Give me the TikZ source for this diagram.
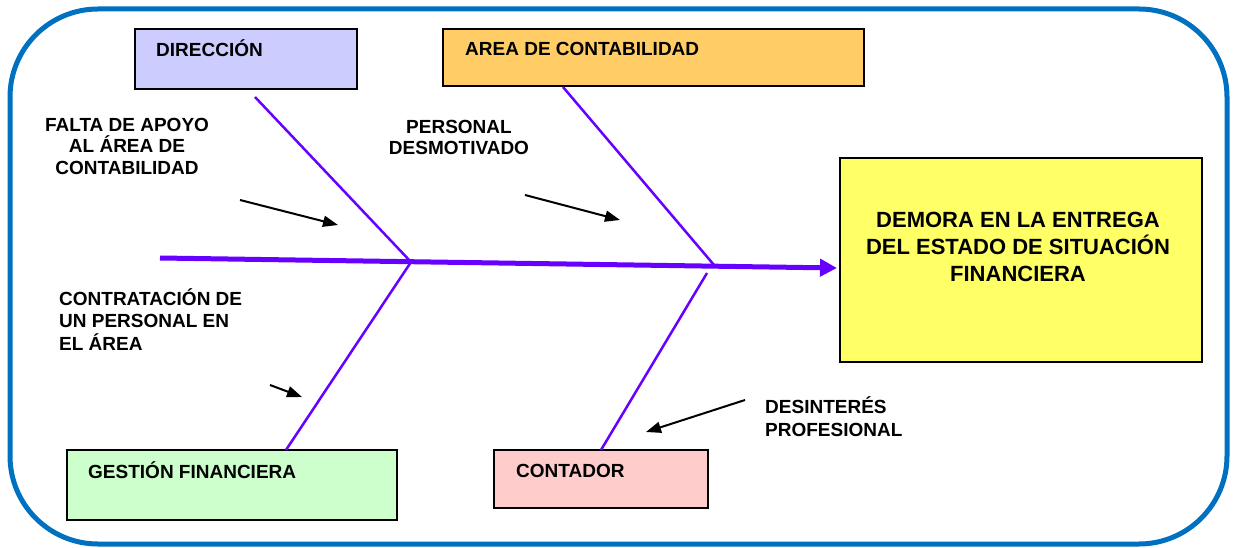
\documentclass[tikz,border=0pt]{standalone}
\usepackage{fontspec}
\setmainfont{Liberation Sans}
\usetikzlibrary{arrows.meta}
\definecolor{frameblue}{HTML}{0070C0}
\definecolor{bonepurple}{HTML}{6600FF}
\definecolor{lav}{HTML}{CCCCFF}
\definecolor{orng}{HTML}{FFCC66}
\definecolor{yell}{HTML}{FFFF66}
\definecolor{grn}{HTML}{CCFFCC}
\definecolor{pnk}{HTML}{FFCCCC}
\tikzset{
  catbox/.style={draw=black, line width=2.5pt},
  boxlabel/.style={anchor=base west, inner sep=0pt, font=\bfseries\fontsize{19}{22}\selectfont},
  cause/.style={inner sep=0pt, anchor=north, font=\bfseries\fontsize{19}{21.5}\selectfont},
  bone/.style={draw=bonepurple, line width=2.5pt},
  spine/.style={draw=bonepurple, line width=5pt, -{Triangle[length=17pt,width=17pt]}},
  causearrow/.style={draw=black, line width=2pt, -{Triangle[length=15pt,width=11pt]}}
}
\begin{document}
\begin{tikzpicture}[x=1pt,y=-1pt]
\useasboundingbox (0,0) rectangle (1235,548);
\draw[frameblue, line width=5pt, rounded corners=88pt] (10,9) rectangle (1227,544);

% category boxes
\node[catbox, fill=lav, minimum width=222pt, minimum height=60pt, inner sep=0pt] (dir) at (246,59) {};
\node[boxlabel] (dirt) at (156,57) {DIRECCIÓN};
\node[catbox, fill=orng, minimum width=421pt, minimum height=57pt, inner sep=0pt] (area) at (653.5,57.5) {};
\node[boxlabel] (areat) at (465,56) {AREA DE CONTABILIDAD};
\node[catbox, fill=grn, minimum width=330pt, minimum height=70pt, inner sep=0pt] (gest) at (232,485) {};
\node[boxlabel] (gestt) at (88,478) {GESTIÓN FINANCIERA};
\node[catbox, fill=pnk, minimum width=214pt, minimum height=58pt, inner sep=0pt] (cont) at (601,479) {};
\node[boxlabel] (contt) at (516,477) {CONTADOR};

% effect box
\node[catbox, fill=yell, minimum width=362pt, minimum height=204pt, inner sep=0pt] (eff) at (1021,260) {};
\node[inner sep=0pt, anchor=north, align=center, font=\bfseries\fontsize{22}{27}\selectfont] (efft) at (1018,208) {\vphantom{Á}DEMORA EN LA ENTREGA\\DEL ESTADO DE SITUACIÓN\\FINANCIERA};

% spine and bones
\coordinate (s0) at (160,258);
\coordinate (s1) at (837,268);
\coordinate (j1) at (411,262);
\coordinate (j2) at (714,265);
\coordinate (b1) at (255,97);
\coordinate (b2) at (563,87);
\coordinate (b3) at (286,450);
\coordinate (b4) at (601,450);
\coordinate (b4e) at (707,273);
\draw[bone] (b1) -- (j1);
\draw[bone] (b2) -- (j2);
\draw[bone] (j1) -- (b3);
\draw[bone] (b4e) -- (b4);
\draw[spine] (s0) -- (s1);

% causes
\node[cause, align=center] (c1) at (127,114) {\vphantom{Á}FALTA DE APOYO\\AL ÁREA DE\\CONTABILIDAD};
\node[cause, align=center] (c2) at (459,116) {\vphantom{Á}PERSONAL\\DESMOTIVADO};
\node[cause, align=left, anchor=north west, font=\bfseries\fontsize{19}{22.5}\selectfont] (c3) at (59,288) {\vphantom{Á}CONTRATACIÓN DE\\UN PERSONAL EN\\EL ÁREA};
\node[cause, align=left, anchor=north west, font=\bfseries\fontsize{19}{23}\selectfont] (c4) at (765,396) {\vphantom{Á}DESINTERÉS\\PROFESIONAL};

\coordinate (a1s) at (240,200); \coordinate (a1e) at (338,225);
\coordinate (a2s) at (525,195); \coordinate (a2e) at (620,220);
\coordinate (a3s) at (270,385); \coordinate (a3e) at (302,397);
\coordinate (a4s) at (745,400); \coordinate (a4e) at (646,432);
\draw[causearrow] (a1s) -- (a1e);
\draw[causearrow] (a2s) -- (a2e);
\draw[causearrow] (a3s) -- (a3e);
\draw[causearrow] (a4s) -- (a4e);
\end{tikzpicture}
\end{document}
